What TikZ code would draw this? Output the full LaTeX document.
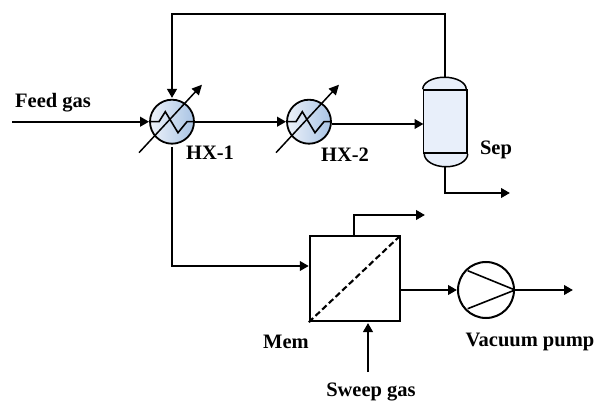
\documentclass[tikz,border=0pt]{standalone}
\usepackage{fontspec}
\setmainfont{Liberation Serif}
\usetikzlibrary{arrows.meta,calc}
\tikzset{
  flow/.style={line width=2.2pt,-{Triangle[length=9pt,width=9.5pt]}},
  hxbody/.style={circle,draw=black,line width=1.8pt,minimum size=44pt,inner sep=0pt,left color=hxleft,right color=hxright},
  adj/.style={line width=1.5pt,-{Triangle[length=10pt,width=9.5pt]}},
  coil/.style={line width=1.6pt,line join=miter},
  lbl/.style={font=\fontsize{20.5}{22}\selectfont\bfseries,inner sep=0pt,text=black},
  vessel/.style={line width=1.5pt},
}
\definecolor{hxleft}{HTML}{EDF2FA}
\definecolor{hxright}{HTML}{A9C4E4}
\definecolor{sepfill}{HTML}{E8EFFA}
\newcommand{\hxdetail}[1]{%
  \draw[coil] ($(#1.center)+(-21.7,0)$) -- ++(8.7,0) -- ++(6.3,-10) -- ++(12.7,21) -- ++(9,-11) -- ++(6.7,0);
  \coordinate (#1a) at ($(#1.center)+(-33,31)$);
  \coordinate (#1b) at ($(#1.center)+(30,-37)$);
  \draw[adj] (#1a) -- (#1b);
}
\begin{document}
\begin{tikzpicture}[x=1pt,y=-1pt]
\useasboundingbox (0,0) rectangle (595,401);
% equipment
\node[hxbody] (hxa) at (172,121.7) {};
\node[hxbody] (hxb) at (309,121.7) {};
\hxdetail{hxa}
\hxdetail{hxb}
% separator
\fill[sepfill] (423.5,90) arc[start angle=180,end angle=0,x radius=21.75,y radius=-12] -- (467,153) arc[start angle=0,end angle=-180,x radius=21.75,y radius=-13] -- cycle;
\node[draw=black,vessel,minimum width=43.5pt,minimum height=63pt,inner sep=0pt] (sep) at (445.25,121.5) {};
\draw[vessel] (sep.north west) arc[start angle=180,end angle=0,x radius=21.75,y radius=-12];
\draw[vessel] (sep.south east) arc[start angle=0,end angle=-180,x radius=21.75,y radius=-13];
\coordinate (septop) at (445.25,78);
\coordinate (sepbot) at (445.25,166);
\coordinate (sepin) at (423.5,124);
% membrane
\node[draw=black,line width=2.4pt,minimum width=90pt,minimum height=85pt,inner sep=0pt] (mem) at (355,278.5) {};
\draw[line width=2.1pt,dash pattern=on 6pt off 3.2pt] (mem.south west) -- (mem.north east);
% pump
\node[circle,draw=black,line width=2pt,minimum size=56pt,inner sep=0pt] (pump) at (486,290) {};
\draw[line width=1.6pt] (467.7,270.7) -- (pump.east) -- (467.7,308.7);
% free ends
\coordinate (feedin) at (12,121.7);
\coordinate (tl) at (172,14);
\coordinate (tr) at (445.25,14);
\coordinate (hxtop) at (172,98);
\coordinate (hxbot) at (172,147);
\coordinate (corner) at (172,266);
\coordinate (memin) at (mem.west |- 0,266);
\coordinate (sepout) at (510,193);
\coordinate (memtop) at (354,236);
\coordinate (memup) at (354,215);
\coordinate (memout) at (425,215);
\coordinate (sweepa) at (368,372);
\coordinate (sweepb) at (368,323);
\coordinate (pumpout) at (573,290);
% connectors
\draw[flow] (feedin) -- (hxa.west);
\draw[flow] (septop) -- (tr) -- (tl) -- (hxtop);
\draw[flow] (hxa.east) -- (hxb.west);
\draw[flow] (hxb.east |- sepin) -- (sepin);
\draw[flow] (sepbot) |- (sepout);
\draw[flow] (hxbot) -- (corner) -- (memin);
\draw[flow] (memtop) -- (memup) -- (memout);
\draw[flow] (sweepa) -- (sweepb);
\draw[flow] (mem.east |- pump.west) -- (pump.west);
\draw[flow] (pump.east) -- (pumpout);
% labels
\node[lbl,anchor=west] (lfeed) at (15,103) {Feed gas};
\node[lbl] (lhxa) at (210,153) {HX-1};
\node[lbl] (lhxb) at (345,155) {HX-2};
\node[lbl] (lsep) at (496,150) {Sep};
\node[lbl] (lmem) at (286,342) {Mem};
\node[lbl] (lvac) at (530,342) {Vacuum pump};
\node[lbl] (lsweep) at (371,392) {Sweep gas};
\end{tikzpicture}
\end{document}
